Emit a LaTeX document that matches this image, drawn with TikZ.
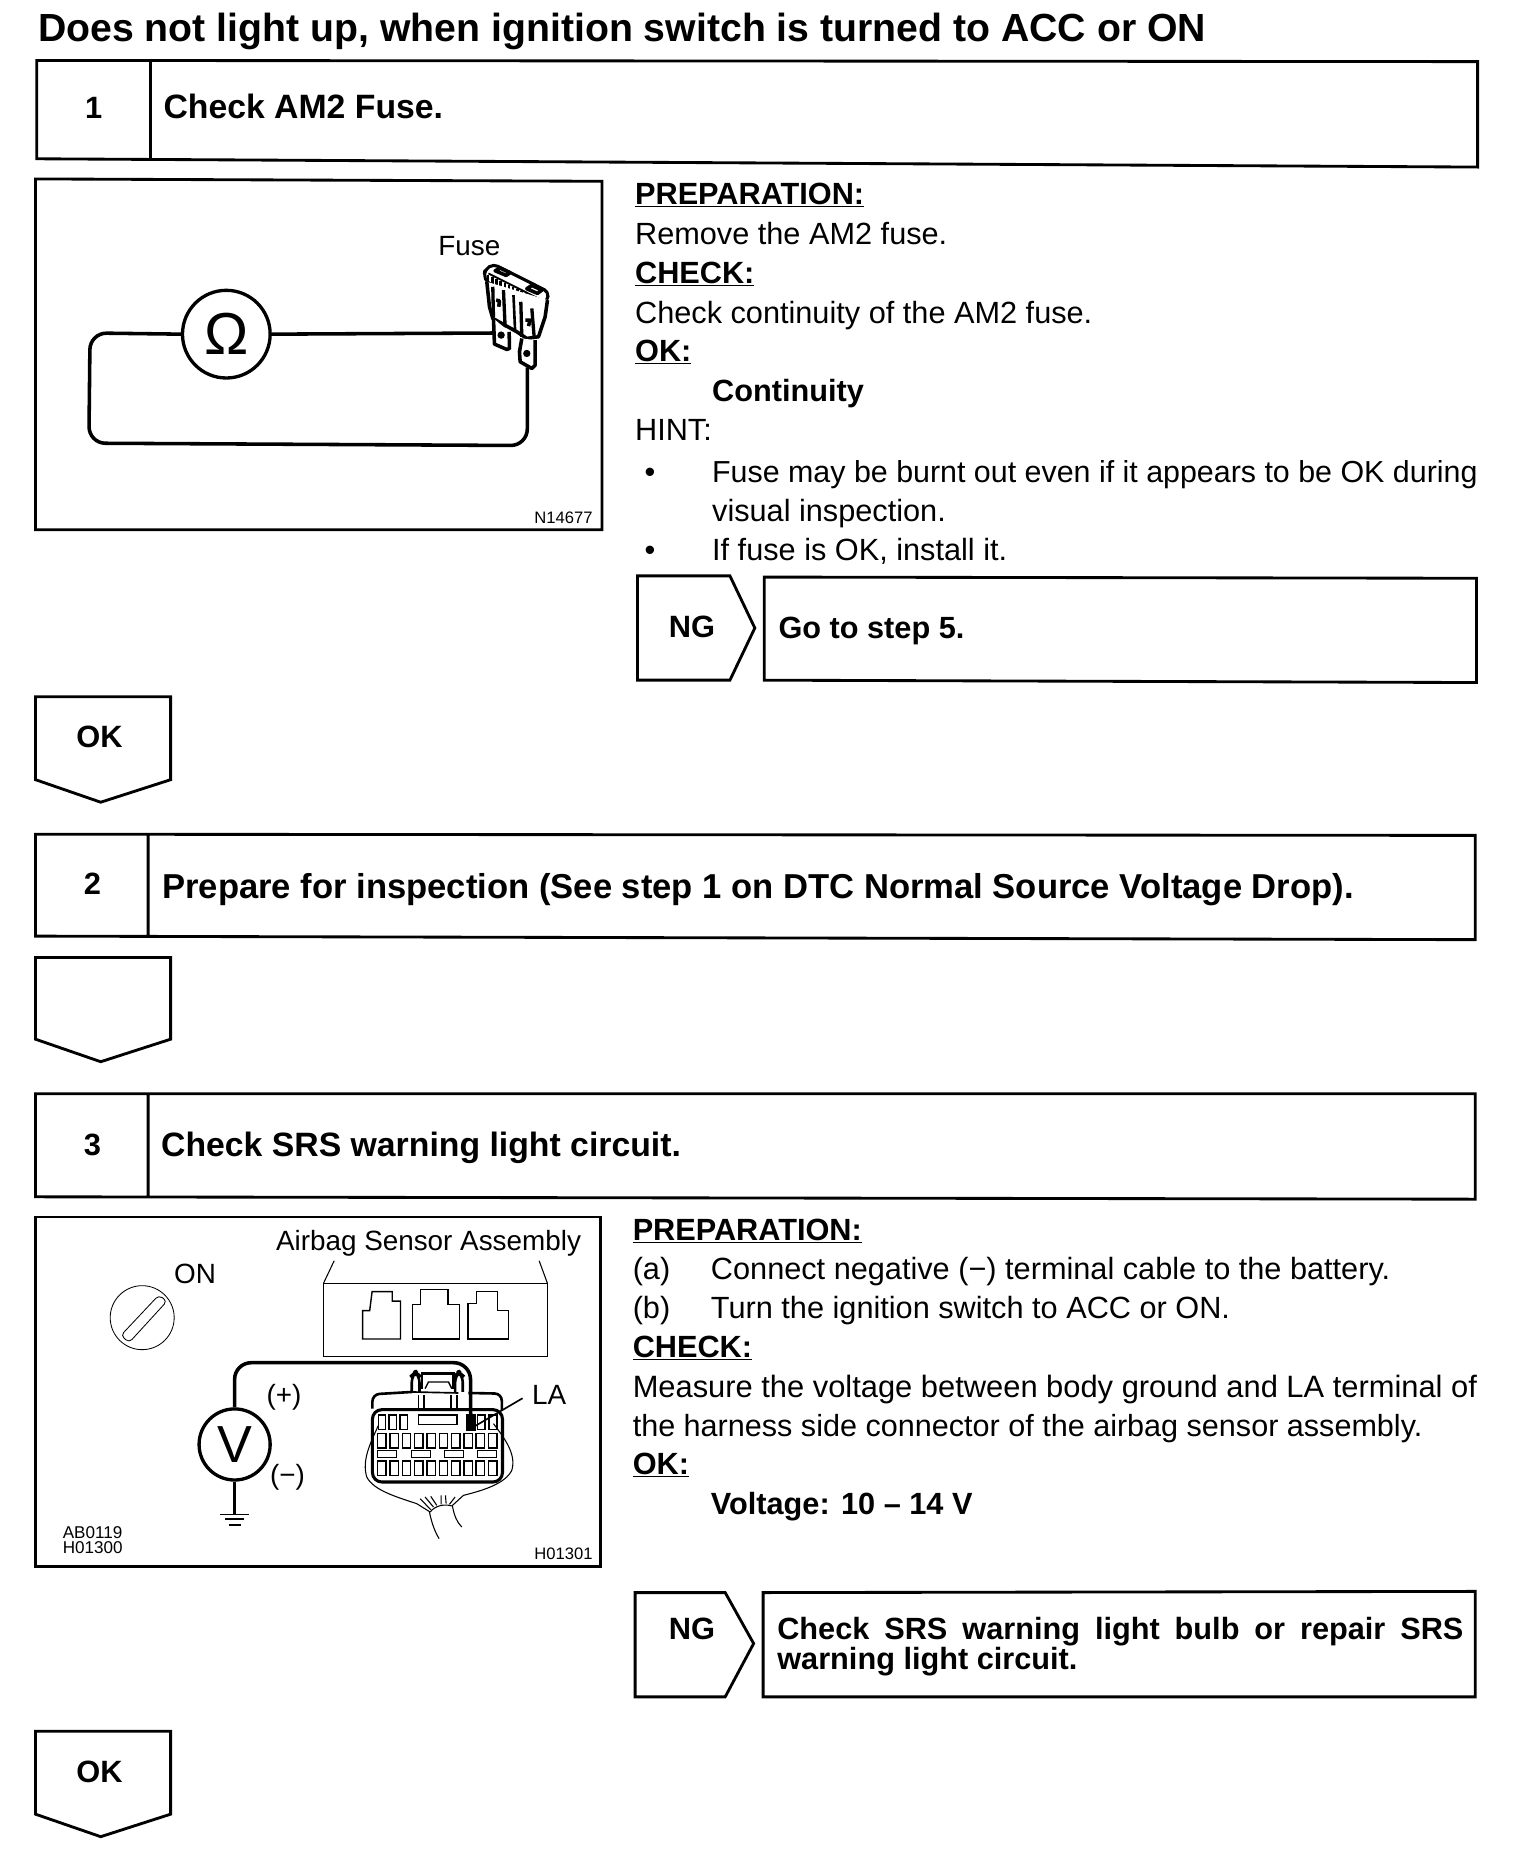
\documentclass[tikz,border=0pt]{standalone}
\usepackage{fontspec}
\setmainfont{Liberation Sans}
\newcommand{\fsz}[1]{\fontsize{#1}{#1}\selectfont}
\newcommand{\ulb}[1]{\underline{\smash{#1}}}
\tikzset{
 frame/.style={line width=2.4pt,line join=miter},
 wire/.style={line width=3pt,rounded corners=14pt},
 thin line/.style={line width=0.7pt},
 txt/.style={anchor=base west,inner sep=0pt,outer sep=0pt,font=\fsz{25.9}},
 btxt/.style={anchor=base west,inner sep=0pt,outer sep=0pt,font=\fsz{25.9}\bfseries},
 ttl/.style={anchor=base west,inner sep=0pt,outer sep=0pt,font=\fsz{28.5}\bfseries},
 lbl/.style={anchor=base west,inner sep=0pt,outer sep=0pt,font=\fsz{23.5}},
 tiny/.style={anchor=base west,inner sep=0pt,outer sep=0pt,font=\fsz{14}},
 mid/.style={anchor=base,inner sep=0pt,outer sep=0pt,font=\fsz{26}\bfseries},
 meter/.style={circle,draw,line width=2.8pt,inner sep=0pt,fill=white},
}
\begin{document}
\begin{tikzpicture}[x=1pt,y=-1pt]
\useasboundingbox (0,0) rectangle (1283,1568);
\fill[white] (0,0) rectangle (1283,1568);
\node[anchor=base west,inner sep=0pt,font=\fsz{33.1}\bfseries] (title) at (32,35) {Does not light up, when ignition switch is turned to ACC or ON};
% step headers
\draw[frame] (31,51) -- (1247,52) -- (1247,141) -- (31,134) -- cycle (127,51) -- (127,135);
\node[mid] (n1) at (79,100) {1};
\node[ttl] (t1) at (138,100) {Check AM2 Fuse.};
\draw[frame] (30,704) -- (1245,705) -- (1245,793) -- (30,790) -- cycle (125,704) -- (125,791);
\node[mid] (n2) at (78,755) {2};
\node[ttl,font=\fsz{29.2}\bfseries] (t2) at (137,758) {Prepare for inspection (See step 1 on DTC Normal Source Voltage Drop).};
\draw[frame] (30,923) -- (1245,923) -- (1245,1012) -- (30,1010) -- cycle (125,923) -- (125,1010);
\node[mid] (n3) at (78,975) {3};
\node[ttl] (t3) at (136,976) {Check SRS warning light circuit.};
% figure 1
\draw[frame] (30,151) -- (508,153) -- (508,447) -- (30,447) -- cycle;
\node[meter,minimum size=74pt,font=\fsz{50}] (om) at (191,282) {Ω};
\coordinate (fa) at (423,281);
\coordinate (fb) at (445,310);
\draw[line width=3pt] (om.east) -- (fa);
\draw[wire] (om.west) -- (76,281) -- (75,374) -- (445,376) -- (fb);
\node[lbl] (fuse) at (370,216) {Fuse};
\node[tiny] (n14677) at (451,442) {N14677};
\begin{scope}[shift={(388.3,202.6)},scale=0.2814,line width=2pt,line join=round]
 \draw[line width=2.6pt,fill=white,rounded corners=4pt] (72,105) -- (75,88) -- (100,72) -- (265,155) -- (262,182) -- (240,198) -- (80,128) -- cycle;
 \draw[line width=1.6pt] (85,100) -- (240,178);
 \foreach \i in {0,...,12} {\draw[line width=2.2pt] ({84+\i*12.5},{104+\i*6}) -- ({84+\i*12.5},{126+\i*6});}
 \draw[line width=3pt] (105,92) -- (120,84) -- (150,98) -- (138,106) -- cycle;
 \draw[line width=3pt] (200,146) -- (215,136) -- (245,150) -- (232,160) -- cycle;
 \draw[line width=3pt,fill=white] (80,125) -- (88,200) -- (98,235) -- (170,275) -- (200,295) -- (235,290) -- (255,230) -- (262,180);
 \draw[line width=2.8pt] (98,140) -- (100,232);
 \draw[line width=2.8pt] (130,150) -- (135,262);
 \draw[line width=2.2pt] (160,165) -- (165,275);
 \draw[line width=2.8pt] (182,185) -- (185,290);
 \draw[line width=2.8pt] (215,205) -- (222,290);
 \draw[line width=3pt] (108,180) -- (118,182) -- (116,200) (196,240) -- (210,240) -- (205,258);
 \draw[line width=3pt,fill=white] (100,235) -- (103,312) -- (140,328) -- (148,325) -- (147,275);
 \draw[line width=3pt,fill=white] (185,295) -- (178,335) -- (180,365) -- (215,385) -- (225,375) -- (225,300);
 \fill (123,285) circle (11);
 \fill (200,340) circle (11);
\end{scope}
% figure 1 text
\node[btxt] (p1) at (536,173) {\ulb{PREPARATION:}};
\node[txt] (p1a) at (536,206) {Remove the AM2 fuse.};
\node[btxt] (c1) at (536,239) {\ulb{CHECK:}};
\node[txt] (c1a) at (536,273) {Check continuity of the AM2 fuse.};
\node[btxt] (o1) at (536,305) {\ulb{OK:}};
\node[btxt] (o1a) at (601,339) {Continuity};
\node[txt] (h1) at (536,372) {HINT:};
\node[txt] (b1) at (544,407) {•};
\node[txt,font=\fsz{25.65}] (h1a) at (601,407) {Fuse may be burnt out even if it appears to be OK during};
\node[txt] (h1b) at (601,440) {visual inspection.};
\node[txt] (b2) at (544,473) {•};
\node[txt] (h1c) at (601,473) {If fuse is OK, install it.};
% NG 1
\draw[frame] (538,486) -- (616,486) -- (637,530) -- (616,574) -- (538,574) -- cycle;
\node[mid] (ng1) at (584,538) {NG};
\draw[frame] (645,487) -- (1246,488) -- (1246,576) -- (645,574) -- cycle;
\node[btxt] (go) at (657,539) {Go to step 5.};
% arrows
\draw[frame] (30,588) -- (144,588) -- (144,658) -- (85,677) -- (30,658) -- cycle;
\node[mid] (ok1) at (84,631) {OK};
\draw[frame] (30,808) -- (144,808) -- (144,877) -- (85,896) -- (30,877) -- cycle;
\draw[frame] (30,1461) -- (144,1461) -- (144,1531) -- (85,1550) -- (30,1531) -- cycle;
\node[mid] (ok3) at (84,1504) {OK};
% figure 3
\draw[frame] (30,1027) -- (507,1027) -- (507,1322) -- (30,1322) -- cycle;
\node[lbl] (air) at (233,1055) {Airbag Sensor Assembly};
\node[lbl] (on) at (147,1083) {ON};
\draw[thin line] (120,1112) circle (27);
\draw[thin line,rounded corners=3.5pt] (102,1127) -- (134,1093) -- (141,1098) -- (109,1133) -- cycle;
\draw[line width=1.2pt] (273,1083) rectangle (462,1145);
\draw[line width=0.9pt] (273,1083) -- (282,1064) (462,1083) -- (455,1064);
\draw[line width=1.2pt] (306,1130) -- (306,1106) -- (312,1106) -- (314,1090) -- (331,1090) -- (331,1098) -- (338,1098) -- (338,1130) -- cycle;
\draw[line width=1.2pt] (348,1130) -- (348,1101) -- (355,1101) -- (355,1088) -- (378,1088) -- (378,1101) -- (388,1101) -- (388,1130) -- cycle;
\draw[line width=1.2pt] (395,1130) -- (395,1100) -- (402,1100) -- (402,1090) -- (420,1090) -- (420,1106) -- (429,1106) -- (429,1130) -- cycle;
% connector drawing
\begin{scope}[shift={(287,1114.2)},scale=0.2814]
 \draw[line width=0.9pt] (115,315) .. controls (90,370) and (65,420) .. (80,470) .. controls (100,510) and (170,530) .. (230,550) -- (270,575);
 \draw[line width=0.9pt] (460,310) .. controls (490,350) and (530,400) .. (515,450) .. controls (495,490) and (430,510) .. (370,525) -- (335,557);
 \draw[line width=0.9pt] (270,575) .. controls (285,555) and (315,550) .. (335,557);
 \draw[line width=0.9pt] (268,575) .. controls (275,610) and (285,635) .. (297,655);
 \draw[line width=0.9pt] (337,557) .. controls (342,585) and (350,605) .. (365,620);
 \draw[line width=0.9pt] (272,568) -- (240,535) (280,560) -- (255,530) (290,555) -- (272,528) (303,552) -- (303,525) (318,550) -- (316,525) (328,552) -- (345,530);
 \draw[line width=2.2pt,rounded corners=6pt] (97,265) -- (97,222) -- (215,215);
 \draw[line width=2.2pt,rounded corners=6pt] (385,218) -- (485,220) -- (485,270);
 \draw[line width=1.4pt] (215,215) -- (355,218);
 \draw[line width=2.6pt,rounded corners=8pt] (97,268) rectangle (487,485);
 \foreach \a/\b in {115/136,147/170,180/203,412/435,447/470} {\draw[line width=1.2pt] (\a,284) rectangle (\b,328);}
 \draw[line width=1.2pt] (235,284) rectangle (350,312);
 \foreach \i in {0,...,9} {
  \draw[line width=1.2pt] ({113+\i*36.9},340) rectangle ({138+\i*36.9},383);
  \draw[line width=1.2pt] ({113+\i*36.9},422) rectangle ({138+\i*36.9},465);
 }
 \foreach \a in {113,215,313,412} {\draw[line width=1.2pt] (\a,391) rectangle ({\a+57},412);}
 \draw[line width=2.2pt,rounded corners=6pt] (215,215) -- (215,165) -- (226,155) -- (238,165) -- (238,215);
 \draw[line width=2.2pt,rounded corners=6pt] (345,215) -- (345,165) -- (356,155) -- (368,165) -- (368,215);
 \draw[line width=2pt] (245,205) -- (245,160) -- (340,160) -- (340,205);
 \draw[line width=1.2pt] (255,205) -- (265,185) -- (325,185) -- (335,205);
 \draw[line width=1.2pt] (235,225) -- (235,265) -- (252,265) -- (252,225) (333,225) -- (333,265) -- (350,265) -- (350,225);
 \draw[line width=2pt,fill=black] (380,284) rectangle (403,328);
 \coordinate (la) at (392,320);
\end{scope}
\node[meter,minimum size=60pt,font=\fsz{44}] (vm) at (198,1219) {V};
\draw[wire] (vm.north) -- (198,1150) -- (397,1150) -- (la);
\coordinate (gnd) at (198,1278);
\draw[line width=2.6pt] (vm.south) -- (gnd);
\draw[line width=1.1pt] (186,1278) -- (210,1278) (190,1282) -- (206,1282) (193,1287) -- (203,1287);
\node[lbl] (plus) at (225,1185) {(+)};
\node[lbl] (minus) at (228,1253) {(−)};
\node[lbl] (lat) at (449,1185) {LA};
\coordinate (laEnd) at (441,1180);
\draw[line width=1.4pt] (laEnd) -- (400,1204);
\node[tiny,font=\fsz{14.4}] (ab) at (53,1298) {AB0119};
\node[tiny,font=\fsz{14.4}] (h0) at (53,1311) {H01300};
\node[tiny] (h1301) at (451,1316) {H01301};
% figure 3 text
\node[btxt] (p3) at (534,1047) {\ulb{PREPARATION:}};
\node[txt] (a3) at (534,1080) {(a)};
\node[txt] (a3t) at (600,1080) {Connect negative (−) terminal cable to the battery.};
\node[txt] (b3) at (534,1113) {(b)};
\node[txt] (b3t) at (600,1113) {Turn the ignition switch to ACC or ON.};
\node[btxt] (c3) at (534,1146) {\ulb{CHECK:}};
\node[txt,font=\fsz{26.05}] (c3a) at (534,1179) {Measure the voltage between body ground and LA terminal of};
\node[txt,font=\fsz{25.8}] (c3b) at (534,1212) {the harness side connector of the airbag sensor assembly.};
\node[btxt] (o3) at (534,1244) {\ulb{OK:}};
\node[btxt] (o3a) at (600,1278) {Voltage: 10 – 14 V};
% NG 3
\draw[frame] (536,1344) -- (612,1344) -- (636,1387) -- (612,1432) -- (536,1432) -- cycle;
\node[mid] (ng3) at (584,1384) {NG};
\draw[frame] (644,1344) -- (1245,1343) -- (1245,1432) -- (644,1432) -- cycle;
\node[btxt] (s3a) at (656,1384) {\makebox[579pt][s]{Check SRS warning light bulb or repair SRS}};
\node[btxt] (s3b) at (656,1409) {warning light circuit.};
\end{tikzpicture}
\end{document}
